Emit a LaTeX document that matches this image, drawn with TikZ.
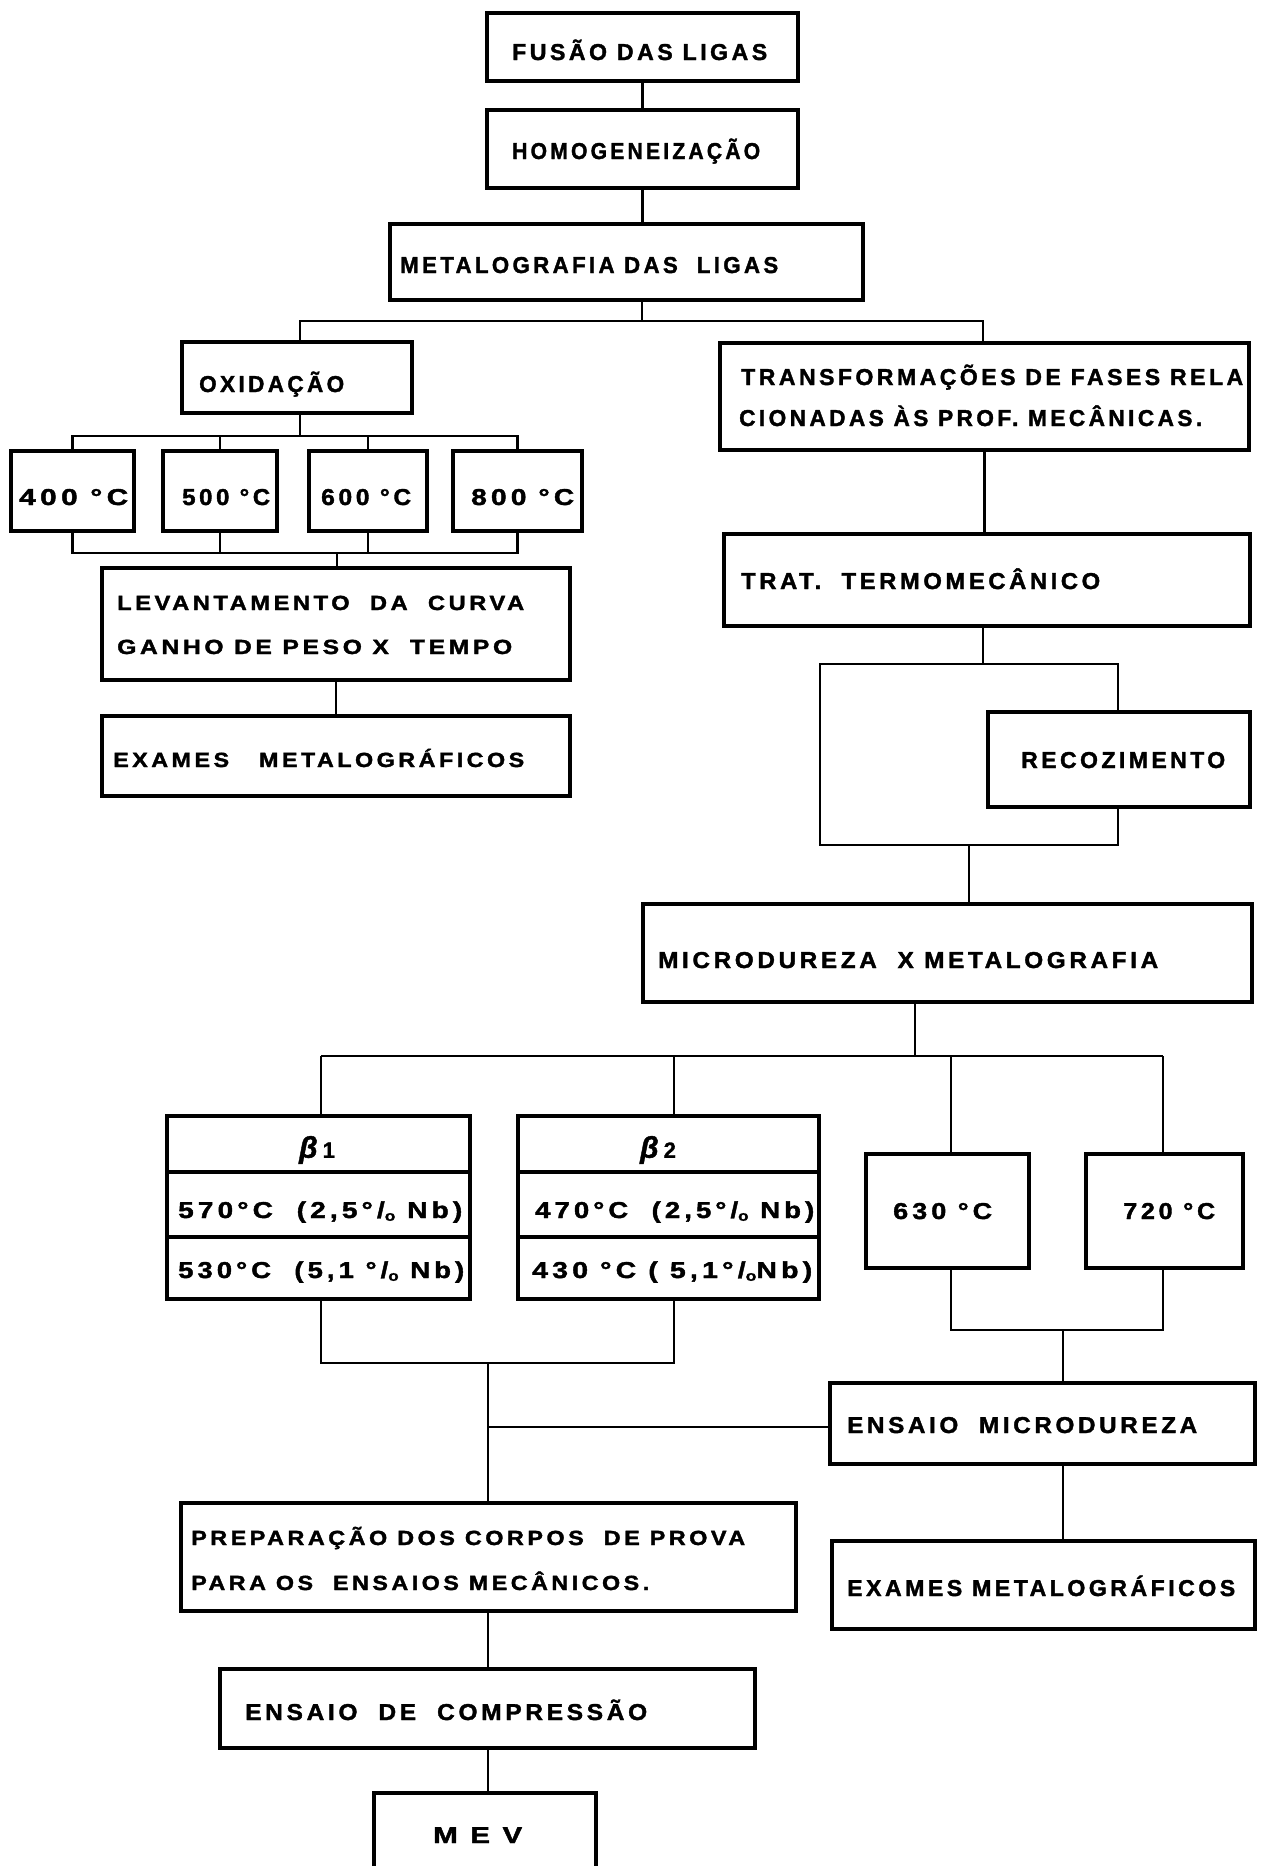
\documentclass[tikz,border=0pt]{standalone}
\usepackage{fontspec}
\setmainfont{Liberation Sans}
\usetikzlibrary{fit}
\newcommand{\fw}[2]{\resizebox{#1pt}{\height}{#2}}
\newcommand{\pco}{°/\raisebox{-0.12em}{\scalebox{0.62}{o}}}
\tikzset{
  box/.style={draw, line width=3.2pt, inner sep=0pt},
  conn/.style={line width=2.7pt},
  thinconn/.style={line width=1.8pt},
  txt/.style={inner sep=0pt, anchor=base west, font=\bfseries\fontsize{23}{26}\selectfont\addfontfeatures{LetterSpace=15,FakeBold=1.6}},
  smalltxt/.style={txt, font=\bfseries\fontsize{20.5}{24}\selectfont\addfontfeatures{LetterSpace=15,FakeBold=1.6}},
  greektxt/.style={inner sep=0pt, anchor=center, font=\bfseries\fontsize{30}{32}\selectfont\addfontfeatures{FakeBold=1.2}},
}
\begin{document}
\begin{tikzpicture}[x=1pt,y=-1pt]
\useasboundingbox (0,0) rectangle (1262,1866);
\fill[white] (0,0) rectangle (1262,1866);
\clip (0,0) rectangle (1262,1866);

% ---------- boxes ----------
\node[box, fit={(487,13)(798,81)}] (fusao) {};
\node[box, fit={(487,110)(798,188)}] (homog) {};
\node[box, fit={(390,224)(863,300)}] (metal) {};
\node[box, fit={(182,342)(412,413)}] (oxid) {};
\node[box, fit={(11,451)(134,531)}] (t400) {};
\node[box, fit={(163,451)(277,531)}] (t500) {};
\node[box, fit={(309,451)(427,531)}] (t600) {};
\node[box, fit={(453,451)(582,531)}] (t800) {};
\node[box, fit={(102,568)(570,680)}] (lev) {};
\node[box, fit={(102,716)(570,796)}] (exl) {};
\node[box, fit={(720,343)(1249,450)}] (transf) {};
\node[box, fit={(724,534)(1250,626)}] (trat) {};
\node[box, fit={(988,712)(1250,807)}] (recoz) {};
\node[box, fit={(643,904)(1252,1002)}] (micro) {};
\node[box, fit={(167,1116)(470,1299)}] (b1) {};
\node[box, fit={(518,1116)(819,1299)}] (b2) {};
\node[box, fit={(866,1154)(1029,1268)}] (t630) {};
\node[box, fit={(1086,1154)(1243,1268)}] (t720) {};
\node[box, fit={(830,1383)(1255,1464)}] (ensm) {};
\node[box, fit={(832,1541)(1255,1629)}] (exr) {};
\node[box, fit={(181,1503)(796,1611)}] (prep) {};
\node[box, fit={(220,1669)(755,1748)}] (comp) {};
\node[box, fit={(374,1793)(596,1900)}] (mev) {};

% row dividers of the beta boxes
\coordinate (b1r1) at (167,1172);
\coordinate (b1r2) at (167,1237);
\coordinate (b2r1) at (518,1172);
\coordinate (b2r2) at (518,1237);
\draw[line width=3.2pt] (b1r1) -- (b1r1 -| b1.east);
\draw[line width=3.2pt] (b1r2) -- (b1r2 -| b1.east);
\draw[line width=3.2pt] (b2r1) -- (b2r1 -| b2.east);
\draw[line width=3.2pt] (b2r2) -- (b2r2 -| b2.east);

% ---------- connectors ----------
\draw[conn] (fusao) -- (homog);
\draw[conn] (homog.south) -- (homog.south |- metal.north);

\coordinate (br1) at (642,321);
\coordinate (br1l) at (300,321);
\coordinate (br1r) at (983,321);
\draw[conn] (br1 |- metal.south) -- (br1);
\draw[conn] (oxid.north -| br1l) -- (br1l) -- (br1r) -- (br1r |- transf.north);

\coordinate (br2) at (300,436);
\draw[conn] (br2 |- oxid.south) -- (br2);
\draw[conn] (t400.north) -- (t400.north |- br2) -- (t800.north |- br2) -- (t800.north);
\draw[conn] (t500.north) -- (t500.north |- br2);
\draw[conn] (t600.north) -- (t600.north |- br2);

\coordinate (jn1) at (337,553);
\draw[conn] (t400.south) -- (t400.south |- jn1) -- (t800.south |- jn1) -- (t800.south);
\draw[conn] (t500.south) -- (t500.south |- jn1);
\draw[conn] (t600.south) -- (t600.south |- jn1);
\draw[conn] (jn1) -- (jn1 |- lev.north);
\draw[conn] (lev.south) -- (exl.north);

\draw[conn] (transf.south) -- (transf.south |- trat.north);
\coordinate (lt) at (983,664);
\coordinate (ltl) at (820,664);
\coordinate (ltr) at (1118,664);
\coordinate (lbl) at (820,845);
\coordinate (lbr) at (1118,845);
\coordinate (lb) at (969,845);
\draw[conn] (lt |- trat.south) -- (lt);
\draw[line width=2.8pt] (recoz.north -| ltr) -- (ltr) -- (ltl) -- (lbl) -- (lbr) -- (recoz.south -| lbr);
\draw[conn] (lb) -- (lb |- micro.north);

\coordinate (br3) at (915,1056);
\coordinate (br3l) at (321,1056);
\coordinate (br3b) at (674,1056);
\coordinate (br3c) at (951,1056);
\coordinate (br3r) at (1163,1056);
\draw[conn] (br3 |- micro.south) -- (br3);
\draw[conn] (br3l) -- (br3r);
\draw[thinconn] (br3l) -- (br3l |- b1.north);
\draw[thinconn] (br3b) -- (br3b |- b2.north);
\draw[conn] (br3c) -- (br3c |- t630.north);
\draw[conn] (br3r) -- (br3r |- t720.north);

\coordinate (jb) at (488,1363);
\draw[thinconn] (b1.south -| br3l) -- (br3l |- jb) -- (br3b |- jb) -- (b2.south -| br3b);
\draw[conn] (jb) -- (jb |- prep.north);

\coordinate (jt) at (1063,1330);
\draw[conn] (t630.south -| br3c) -- (br3c |- jt) -- (br3r |- jt) -- (t720.south -| br3r);
\draw[conn] (jt) -- (jt |- ensm.north);
\coordinate (jh) at (488,1427);
\draw[thinconn] (jh) -- (jh -| ensm.west);
\draw[conn] (ensm.south -| jt) -- (exr.north -| jt);

\draw[conn] (prep.south -| jb) -- (comp.north -| jb);
\draw[conn] (comp.south -| jb) -- (mev.north -| jb);

% ---------- texts ----------
\node[txt] (tfusao) at (512,60) {\fw{255}{FUSÃO DAS LIGAS}};
\node[txt] (thomog) at (512,159) {\fw{248}{HOMOGENEIZAÇÃO}};
\node[txt] (tmetal) at (400,273) {\fw{378}{METALOGRAFIA DAS\ \ LIGAS}};
\node[txt] (toxid) at (199,392) {\fw{145}{OXIDAÇÃO}};
\node[txt] (tt400) at (19,505) {\fw{109}{400 °C}};
\node[txt] (tt500) at (182,505) {\fw{88}{500 °C}};
\node[txt] (tt600) at (321,505) {\fw{90}{600 °C}};
\node[txt] (tt800) at (471,505) {\fw{103}{800 °C}};
\node[smalltxt] (tlev1) at (117,610) {\fw{407}{LEVANTAMENTO\ \ DA\ \ CURVA}};
\node[smalltxt] (tlev2) at (117,654) {\fw{395}{GANHO DE PESO X\ \ TEMPO}};
\node[smalltxt] (texl) at (113,767) {\fw{411}{EXAMES\ \ \ METALOGRÁFICOS}};
\node[txt] (ttransf1) at (741,385) {\fw{502}{TRANSFORMAÇÕES DE FASES RELA}};
\node[txt] (ttransf2) at (739,426) {\fw{463}{CIONADAS ÀS PROF. MECÂNICAS.}};
\node[txt] (ttrat) at (741,589) {\fw{359}{TRAT.\ \ TERMOMECÂNICO}};
\node[txt] (trecoz) at (1021,768) {\fw{204}{RECOZIMENTO}};
\node[txt] (tmicro) at (658,968) {\fw{500}{MICRODUREZA\ \ X METALOGRAFIA}};
\node[greektxt] (tb1) at (317,1150) {\itshape β\,{\upshape\fontsize{22}{24}\selectfont 1}};
\node[greektxt] (tb2) at (658,1150) {\itshape β\,{\upshape\fontsize{22}{24}\selectfont 2}};
\node[txt] (tb1a) at (178,1218) {\fw{284}{570°C\ \ (2,5\pco\ Nb)}};
\node[txt] (tb1b) at (178,1278) {\fw{286}{530°C\ \ (5,1 \pco\ Nb)}};
\node[txt] (tb2a) at (535,1218) {\fw{279}{470°C\ \ (2,5\pco\ Nb)}};
\node[txt] (tb2b) at (532,1278) {\fw{280}{430 °C ( 5,1\pco Nb)}};
\node[txt] (tt630) at (893,1219) {\fw{99}{630 °C}};
\node[txt] (tt720) at (1123,1219) {\fw{92}{720 °C}};
\node[txt] (tensm) at (847,1433) {\fw{350}{ENSAIO\ \ MICRODUREZA}};
\node[txt] (texr) at (847,1596) {\fw{388}{EXAMES METALOGRÁFICOS}};
\node[smalltxt] (tprep1) at (191,1545) {\fw{554}{PREPARAÇÃO DOS CORPOS\ \ DE PROVA}};
\node[smalltxt] (tprep2) at (191,1590) {\fw{458}{PARA OS\ \ ENSAIOS MECÂNICOS.}};
\node[txt] (tcomp) at (245,1720) {\fw{402}{ENSAIO\ \ DE\ \ COMPRESSÃO}};
\node[txt] (tmev) at (433,1843) {\fw{89}{M E V}};
\end{tikzpicture}
\end{document}
